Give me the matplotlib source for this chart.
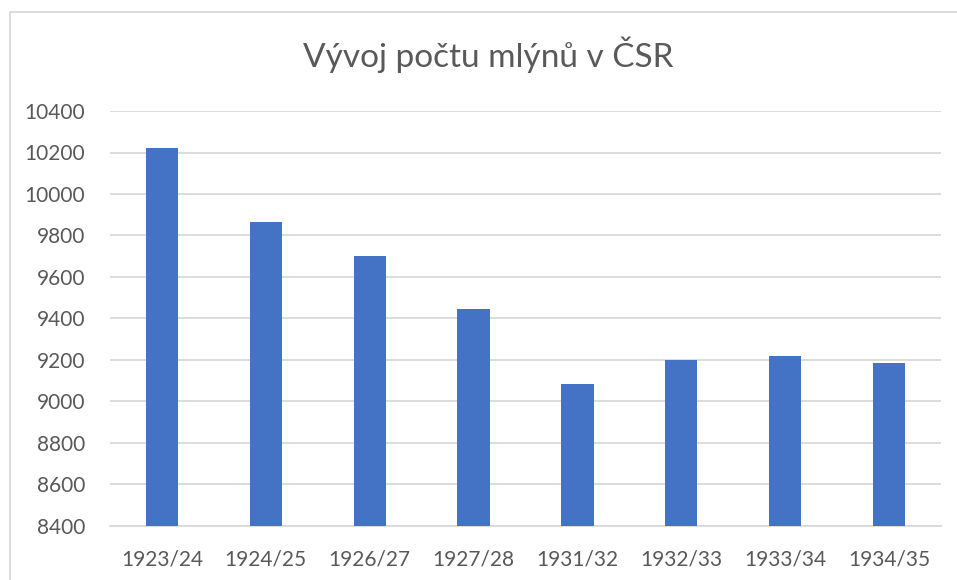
import matplotlib
matplotlib.use('Agg')
import matplotlib.pyplot as plt
from matplotlib.patches import Rectangle

##---------------------------input data-------------------------------##
seasons = ['1923/24', '1924/25', '1926/27', '1927/28', '1931/32', '1932/33', '1933/34', '1934/35']
mills = [10220, 9866, 9702, 9448, 9082, 9200, 9221, 9184]
y_ticks = [8400, 8600, 8800, 9000, 9200, 9400, 9600, 9800, 10000, 10200, 10400]
title = 'Vývoj počtu mlýnů v ČSR'

##----------------------------figure----------------------------------##
plt.rcParams['font.family'] = ['Lato', 'DejaVu Sans']
W, H = 957, 580
fig = plt.figure(figsize=(W / 100, H / 100), dpi=100)

# chart area border (Excel-like)
fig.patches.append(Rectangle((10 / W, -0.1), 1.2, 1 - 12 / H + 0.1, transform=fig.transFigure,
                             fill=False, edgecolor='#D9D9D9', linewidth=1.3))

ax = fig.add_axes([110 / W, (H - 526) / H, 831 / W, 415 / H])
x = range(len(seasons))
ax.bar(x, mills, width=0.31, color='#4472C4', zorder=3)

ax.set_xlim(-0.5, len(seasons) - 0.5)
ax.set_ylim(y_ticks[0], y_ticks[-1])
ax.set_yticks(y_ticks)
ax.set_xticks(list(x))
ax.set_xticklabels(seasons)
ax.grid(axis='y', color='#D9D9D9', linewidth=1.3, zorder=0)
ax.tick_params(length=0, colors='#595959', labelsize=15)
ax.tick_params(axis='y', pad=18)
ax.tick_params(axis='x', pad=17)
for s in ['top', 'right', 'left']:
    ax.spines[s].set_visible(False)
ax.spines['bottom'].set_color('#D9D9D9')
ax.spines['bottom'].set_linewidth(1.3)

fig.text(488 / W, 1 - 67 / H, title, ha='center', va='baseline', fontsize=24, color='#595959')

fig.savefig('out.png', dpi=100)
